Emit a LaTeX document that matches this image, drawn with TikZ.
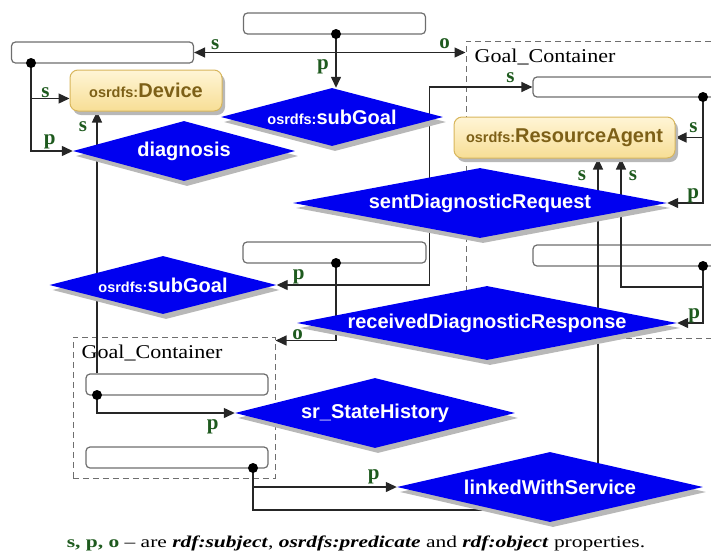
\documentclass[tikz,border=0pt]{standalone}
\usepackage{fontspec}
\setmainfont{Liberation Serif}
\newfontfamily\arialfont{Liberation Sans}
\newfontfamily\gcfont[FakeStretch=1.13]{Liberation Serif}
\newfontfamily\notefont[FakeStretch=1.3]{Liberation Serif}
\usepackage{tikz}
\usetikzlibrary{shapes.geometric,arrows.meta,positioning,calc,shadows}
\definecolor{owlblue}{HTML}{0000F0}
\definecolor{owlgreen}{HTML}{1E5A1E}
\definecolor{owlbrown}{HTML}{7D6017}
\definecolor{owlyellow}{HTML}{F7DE95}
\definecolor{owllight}{HTML}{FFF5D6}
\definecolor{owlborder}{HTML}{D8B65C}
\definecolor{owlgray}{HTML}{6E6E6E}
\newcommand{\owlpre}{\fontsize{14.5}{16}\selectfont}
\pgfdeclarelayer{bg}
\pgfdeclarelayer{edges}
\pgfsetlayers{bg,edges,main}

\begin{document}
\begin{tikzpicture}[x=1pt, y=-1pt,
    prop/.style={diamond, fill=owlblue, inner sep=0pt, drop shadow={shadow xshift=3pt, shadow yshift=-5pt, fill=black!28, opacity=1}},
    proptext/.style={text=white, font=\arialfont\bfseries\fontsize{20}{22}\selectfont, inner sep=0pt},
    owlclass/.style={rectangle, rounded corners=8pt, draw=owlborder, line width=1pt, top color=owllight, bottom color=owlyellow, minimum height=41pt, text=owlbrown, font=\arialfont\bfseries\fontsize{20}{22}\selectfont, drop shadow={shadow xshift=3pt, shadow yshift=-4pt, fill=black!28, opacity=1}},
    stmt/.style={rectangle, rounded corners=4pt, draw=owlgray, line width=1.2pt, fill=white, minimum width=182pt, minimum height=21pt, inner sep=0pt},
    dot/.style={circle, fill=black, inner sep=0pt, minimum size=10pt},
    container/.style={draw=owlgray, dash pattern=on 6pt off 4pt, line width=1pt, inner sep=0pt},
    gclabel/.style={anchor=base west, xshift=9pt, yshift=-22pt, inner sep=0pt, font=\gcfont\fontsize{19.5}{20}\selectfont},
    link/.style={draw=black!85, line width=1.3pt},
    arrow/.style={link, -{Triangle[length=11pt,width=10pt]}},
    twoway/.style={link, {Triangle[length=11pt,width=10pt]}-{Triangle[length=11pt,width=10pt]}},
    spo/.style={anchor=base, inner sep=0pt, text=owlgreen, font=\bfseries\fontsize{21}{21}\selectfont},
]
    \useasboundingbox (0,0) rectangle (711,555);

    \begin{pgfonlayer}{bg}
    \node[container, minimum width=259pt, minimum height=297pt, label={[gclabel]north west:Goal\_Container}] (gc1) at (595.5,189.5) {};
    \node[container, minimum width=202pt, minimum height=141pt, label={[gclabel]north west:Goal\_Container}] (gc2) at (174,407.5) {};

    \node[stmt] (box1) at (334.5,23.5) {};
    \node[stmt] (box2) at (102.5,52.5) {};
    \node[stmt, minimum width=187pt, minimum height=20pt] (box3) at (626.5,87) {};
    \node[stmt, minimum width=183pt] (box4) at (334.5,252.5) {};
    \node[stmt] (box5) at (177,384.5) {};
    \node[stmt] (box6) at (177,457.5) {};
    \node[stmt, minimum width=187pt] (box7) at (626.5,255.5) {};
    \end{pgfonlayer}

    \node[owlclass, minimum width=152pt] (device) at (146,90.5) {{\owlpre osrdfs:}Device};
    \node[owlclass, minimum width=221pt] (ra) at (564.5,137.5) {{\owlpre osrdfs:}ResourceAgent};

    \node[prop, minimum width=222pt, minimum height=60pt, label={[proptext]center:diagnosis}] (diag) at (184,151) {};
    \node[prop, minimum width=222pt, minimum height=58pt, label={[proptext]center:{\owlpre osrdfs:}subGoal}] (sub1) at (332,117) {};
    \node[prop, minimum width=374pt, minimum height=70pt, label={[proptext]center:sentDiagnosticRequest}] (sdr) at (480,203) {};
    \node[prop, minimum width=227pt, minimum height=58pt, label={[proptext]center:{\owlpre osrdfs:}subGoal}] (sub2) at (163,285) {};
    \node[prop, minimum width=380pt, minimum height=74pt, label={[proptext]center:receivedDiagnosticResponse}] (rdr) at (487,323) {};
    \node[prop, minimum width=280pt, minimum height=70pt, label={[proptext]center:sr\_StateHistory}] (sh) at (375,413) {};
    \node[prop, minimum width=306pt, minimum height=70pt, label={[proptext]center:linkedWithService}] (lws) at (550,487) {};

    \begin{pgfonlayer}{edges}
    \coordinate (d1) at (336,34);
    \coordinate (d2) at (31,63);
    \coordinate (d3) at (703,97);
    \coordinate (d4) at (336,263);
    \coordinate (d5) at (97,395);
    \coordinate (d6) at (253,468);
    \coordinate (d7) at (703,266);

    \draw[arrow] (d1) |- (box2.east) node[spo, xshift=21pt, yshift=3.5pt] {s};
    \draw[arrow] (d1) |- (gc1.west |- box2.east) node[spo, xshift=-21pt, yshift=4.5pt] {o};
    \draw[arrow] (d1) -- (d1 |- sub1.north) node[spo, xshift=-13pt, yshift=18.5pt] {p};
    \draw[arrow] (d2) |- ([yshift=-8pt]device.west) node[spo, xshift=-24pt, yshift=1.5pt] {s};
    \draw[arrow] (d2) |- (diag.west) node[spo, xshift=-23pt, yshift=7pt] {p};
    \draw[arrow] (d3) |- (ra.east) node[spo, xshift=18pt, yshift=5.5pt] {s};
    \draw[arrow] (d3) |- (sdr.east) node[spo, xshift=26pt, yshift=5pt] {p};
    \draw[twoway] (sub2.east) node[spo, xshift=22pt, yshift=6pt] {p} -| ([xshift=-103pt]box3.west) -- (box3.west) node[spo, xshift=-22pt, yshift=5pt] {s};
    \draw[arrow] (d4) |- ([yshift=-4pt]gc2.north east) node[spo, xshift=22pt, yshift=1pt] {o};
    \draw[arrow] (d7) |- (rdr.east) node[spo, xshift=17pt, yshift=5pt] {p};
    \draw[arrow] (d7) -- ++(0,21) -| ([xshift=56.5pt]ra.south) node[spo, xshift=12pt, yshift=-22pt] {s};
    \draw[arrow] (d5 |- box5.north) -- (d5 |- device.south) node[spo, xshift=-14pt, yshift=-20pt] {s};
    \draw[arrow] (d5) |- (sh.west) node[spo, xshift=-22pt, yshift=-16pt] {p};
    \draw[arrow] (d6) |- (lws.west) node[spo, xshift=-23pt, yshift=8pt] {p};
    \draw[arrow] (d6) -- ++(0,42) -| ([xshift=33.5pt]ra.south) node[spo, xshift=-16pt, yshift=-22pt] {s};

    \foreach \d in {d1,d2,d3,d4,d5,d6,d7}
        \node[dot] at (\d) {};
    \end{pgfonlayer}

    \node[anchor=base, inner sep=0pt, font=\notefont\fontsize{16.5}{18}\selectfont] (note) at (356,547)
        {{\bfseries\color{owlgreen}s, p, o} – are \textbf{\textit{rdf:subject}}, \textbf{\textit{osrdfs:predicate}} and \textbf{\textit{rdf:object}} properties.};
\end{tikzpicture}
\end{document}
